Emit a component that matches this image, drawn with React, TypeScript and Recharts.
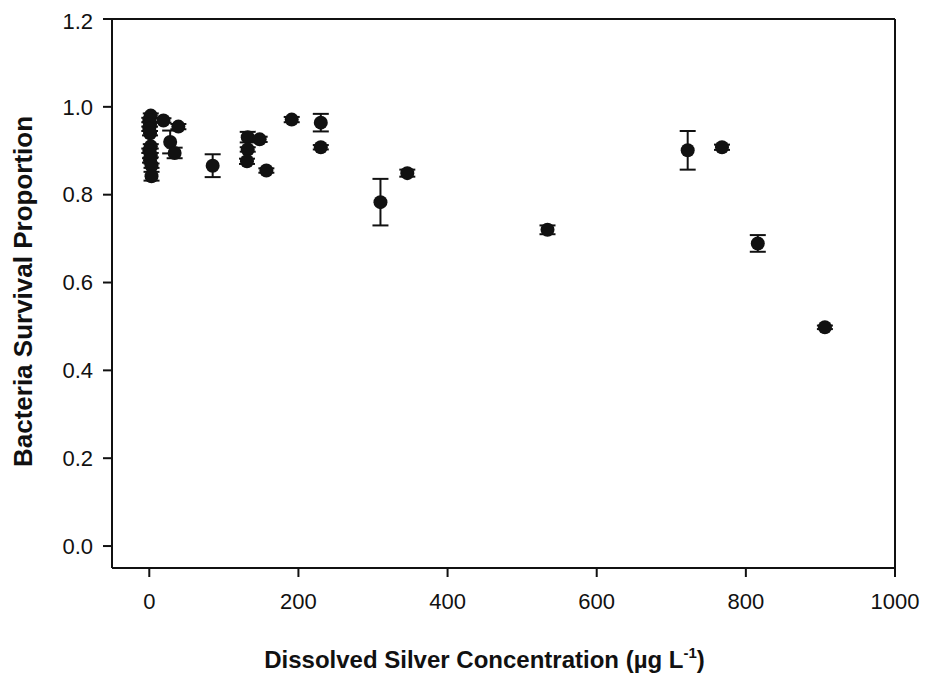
import React from 'react';
import { ScatterChart, Scatter, XAxis, YAxis, ErrorBar, ReferenceLine, Label } from 'recharts';

// dissolved silver (ug/L), survival proportion, error (± half-range)
const silverConc = [2, 0, 1, 0, 1, 2, 0, 2, 1, 3, 3, 19, 39, 28, 34, 85, 132, 148, 132, 131, 157, 191, 230, 230, 310, 346, 534, 722, 768, 816, 906];
const survival = [0.98, 0.97, 0.96, 0.95, 0.94, 0.91, 0.9, 0.89, 0.878, 0.866, 0.842, 0.969, 0.955, 0.92, 0.895, 0.866, 0.931, 0.926, 0.903, 0.876, 0.855, 0.971, 0.964, 0.908, 0.783, 0.849, 0.72, 0.901, 0.908, 0.689, 0.498];
const survivalErr = [0.005, 0.005, 0.005, 0.005, 0.005, 0.005, 0.005, 0.005, 0.005, 0.005, 0.01, 0.005, 0.006, 0.026, 0.012, 0.026, 0.012, 0.006, 0.005, 0.006, 0.005, 0.006, 0.02, 0.005, 0.053, 0.008, 0.01, 0.044, 0.006, 0.019, 0.004];

const xTicks = [0, 200, 400, 600, 800, 1000];
const yTicks = [0, 0.2, 0.4, 0.6, 0.8, 1.0, 1.2];

const points = silverConc.map((x, i) => ({ x, y: survival[i], e: survivalErr[i] }));

const FONT = '"Liberation Sans", Arial, sans-serif';
const INK = '#111';

const Dot = (props: any) => <circle cx={props.cx} cy={props.cy} r={7} fill={INK} />;

const XTitle = (props: any) => {
  const { x, width } = props.viewBox;
  return (
    <text x={x + width / 2 - 19} y={660} textAnchor="middle" fontFamily={FONT} fontWeight="bold" fontSize={24} fill={INK}>
      Dissolved Silver Concentration (µg L
      <tspan dy={-10} fontSize={15}>-1</tspan>
      <tspan dy={10}>)</tspan>
    </text>
  );
};

const YTitle = (props: any) => {
  const { y, height } = props.viewBox;
  const cy = y + height / 2 - 2;
  return (
    <text x={24} y={cy} transform={`rotate(-90 24 ${cy})`} textAnchor="middle" fontFamily={FONT} fontWeight="bold" fontSize={26} fill={INK}>
      Bacteria Survival Proportion
    </text>
  );
};

export default function App() {
  return (
    <div style={{ width: 920, height: 667, background: '#fff' }}>
      <ScatterChart width={920} height={667} margin={{ top: 11, right: 33, left: 0, bottom: 0 }}>
        <XAxis
          type="number"
          dataKey="x"
          domain={[-50, 1000]}
          ticks={xTicks}
          height={107}
          tickSize={9}
          tickMargin={16}
          axisLine={{ stroke: INK, strokeWidth: 2 }}
          tickLine={{ stroke: INK, strokeWidth: 2 }}
          tick={{ fontSize: 22, fill: INK, fontFamily: FONT }}
          allowDataOverflow
        >
          <Label content={XTitle} />
        </XAxis>
        <YAxis
          type="number"
          dataKey="y"
          domain={[-0.05, 1.2]}
          ticks={yTicks}
          width={104}
          tickSize={9}
          tickMargin={10}
          axisLine={{ stroke: INK, strokeWidth: 2 }}
          tickLine={{ stroke: INK, strokeWidth: 2 }}
          tick={{ fontSize: 22, fill: INK, fontFamily: FONT }}
          tickFormatter={(v: number) => v.toFixed(1)}
          allowDataOverflow
        >
          <Label content={YTitle} />
        </YAxis>
        <ReferenceLine y={1.2} stroke={INK} strokeWidth={2} />
        <ReferenceLine x={1000} stroke={INK} strokeWidth={2} />
        <Scatter data={points} shape={Dot} isAnimationActive={false}>
          <ErrorBar dataKey="e" direction="y" width={8} stroke={INK} strokeWidth={2} isAnimationActive={false} />
        </Scatter>
      </ScatterChart>
    </div>
  );
}
